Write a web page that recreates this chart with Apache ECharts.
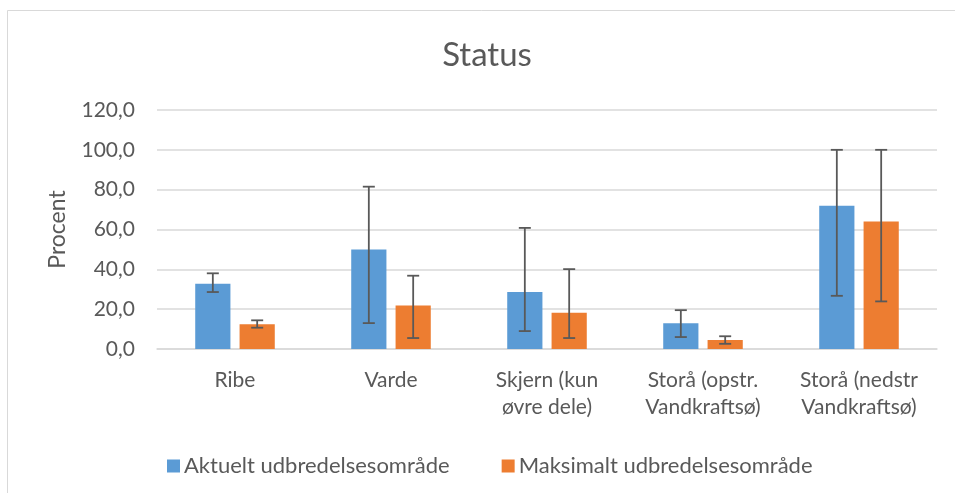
<!DOCTYPE html>
<html>
<head>
<meta charset="utf-8">
<script src="https://cdn.jsdelivr.net/npm/echarts@6/dist/echarts.min.js"></script>
<style>
html,body{margin:0;padding:0;background:#fff;}
#chart{width:955px;height:493px;}
</style>
</head>
<body>
<div id="chart"></div>
<script>
var categories = ["Ribe", "Varde", "Skjern (kun\nøvre dele)", "Storå (opstr.\nVandkraftsø)", "Storå (nedstr\nVandkraftsø)"];
var seriesNames = ["Aktuelt udbredelsesområde", "Maksimalt udbredelsesområde"];
var aktuelt = [32.8, 50.0, 28.6, 12.9, 71.9];
var aktueltLow = [28.6, 13.0, 9.0, 6.0, 26.7];
var aktueltHigh = [38.0, 81.5, 60.8, 19.5, 100.0];
var maksimalt = [12.4, 21.9, 18.2, 4.5, 64.0];
var maksimaltLow = [10.7, 5.5, 5.5, 2.6, 23.9];
var maksimaltHigh = [14.4, 36.8, 40.1, 6.4, 100.0];
var yTicks = {min: 0, max: 120, interval: 20};

var FONT = 'Lato';
var TXT = '#595959';
var CAT_GAP = 0.49, BAR_GAP = 0.26;

function errData(lo, hi) {
  return lo.map(function (v, i) { return [i, v, hi[i]]; });
}
function makeRender(sign) {
  return function (params, api) {
    var cat = api.value(0);
    var lo = api.coord([cat, api.value(1)]);
    var hi = api.coord([cat, api.value(2)]);
    var band = api.size([1, 0])[0];
    var bw = band * (1 - CAT_GAP) / (2 + BAR_GAP);
    var x = lo[0] + sign * (bw / 2 + bw * BAR_GAP / 2);
    var cap = 6;
    var st = {stroke: '#595959', lineWidth: 1.8};
    return {
      type: 'group',
      children: [
        {type: 'line', shape: {x1: x, y1: lo[1], x2: x, y2: hi[1]}, style: st},
        {type: 'line', shape: {x1: x - cap, y1: lo[1], x2: x + cap, y2: lo[1]}, style: st},
        {type: 'line', shape: {x1: x - cap, y1: hi[1], x2: x + cap, y2: hi[1]}, style: st}
      ]
    };
  };
}

var chart = echarts.init(document.getElementById('chart'));
chart.setOption({
  animation: false,
  backgroundColor: '#fff',
  textStyle: {fontFamily: FONT},
  graphic: [{
    type: 'rect', shape: {x: 7.5, y: 10.5, width: 980, height: 520},
    style: {fill: 'none', stroke: '#d9d9d9', lineWidth: 1}, z: -10
  }],
  title: {
    text: 'Status', left: 487, top: 39, textAlign: 'center', padding: 0,
    textStyle: {fontFamily: FONT, fontSize: 33, fontWeight: 'normal', color: TXT}
  },
  legend: {
    left: 162, top: 450, itemWidth: 13, itemHeight: 13, itemGap: 52,
    icon: 'rect',
    textStyle: {fontFamily: FONT, fontSize: 22, color: TXT, padding: [0, 0, 0, -1]},
    data: seriesNames
  },
  grid: {left: 157, right: 18, top: 110, bottom: 144},
  xAxis: {
    type: 'category', data: categories,
    axisLine: {lineStyle: {color: '#d9d9d9', width: 1.5}},
    axisTick: {show: false},
    axisLabel: {fontFamily: FONT, fontSize: 21, color: TXT, lineHeight: 27, margin: 18, interval: 0}
  },
  yAxis: {
    type: 'value', min: yTicks.min, max: yTicks.max, interval: yTicks.interval,
    name: 'Procent', nameLocation: 'middle', nameGap: 88, nameRotate: 90,
    nameTextStyle: {fontFamily: FONT, fontSize: 23, color: TXT},
    axisLine: {show: false}, axisTick: {show: false},
    splitLine: {lineStyle: {color: '#d9d9d9', width: 1.5}},
    axisLabel: {
      fontFamily: FONT, fontSize: 21, color: TXT, margin: 22,
      formatter: function (v) { return v.toFixed(1).replace('.', ','); }
    }
  },
  series: [
    {name: seriesNames[0], type: 'bar', data: aktuelt, barGap: (BAR_GAP * 100) + '%', barCategoryGap: (CAT_GAP * 100) + '%', itemStyle: {color: '#5b9bd5'}},
    {name: seriesNames[1], type: 'bar', data: maksimalt, barGap: (BAR_GAP * 100) + '%', barCategoryGap: (CAT_GAP * 100) + '%', itemStyle: {color: '#ed7d31'}},
    {type: 'custom', renderItem: makeRender(-1), data: errData(aktueltLow, aktueltHigh), z: 10, encode: {x: 0, y: [1, 2]}, silent: true},
    {type: 'custom', renderItem: makeRender(1), data: errData(maksimaltLow, maksimaltHigh), z: 10, encode: {x: 0, y: [1, 2]}, silent: true}
  ]
});
</script>
</body>
</html>
